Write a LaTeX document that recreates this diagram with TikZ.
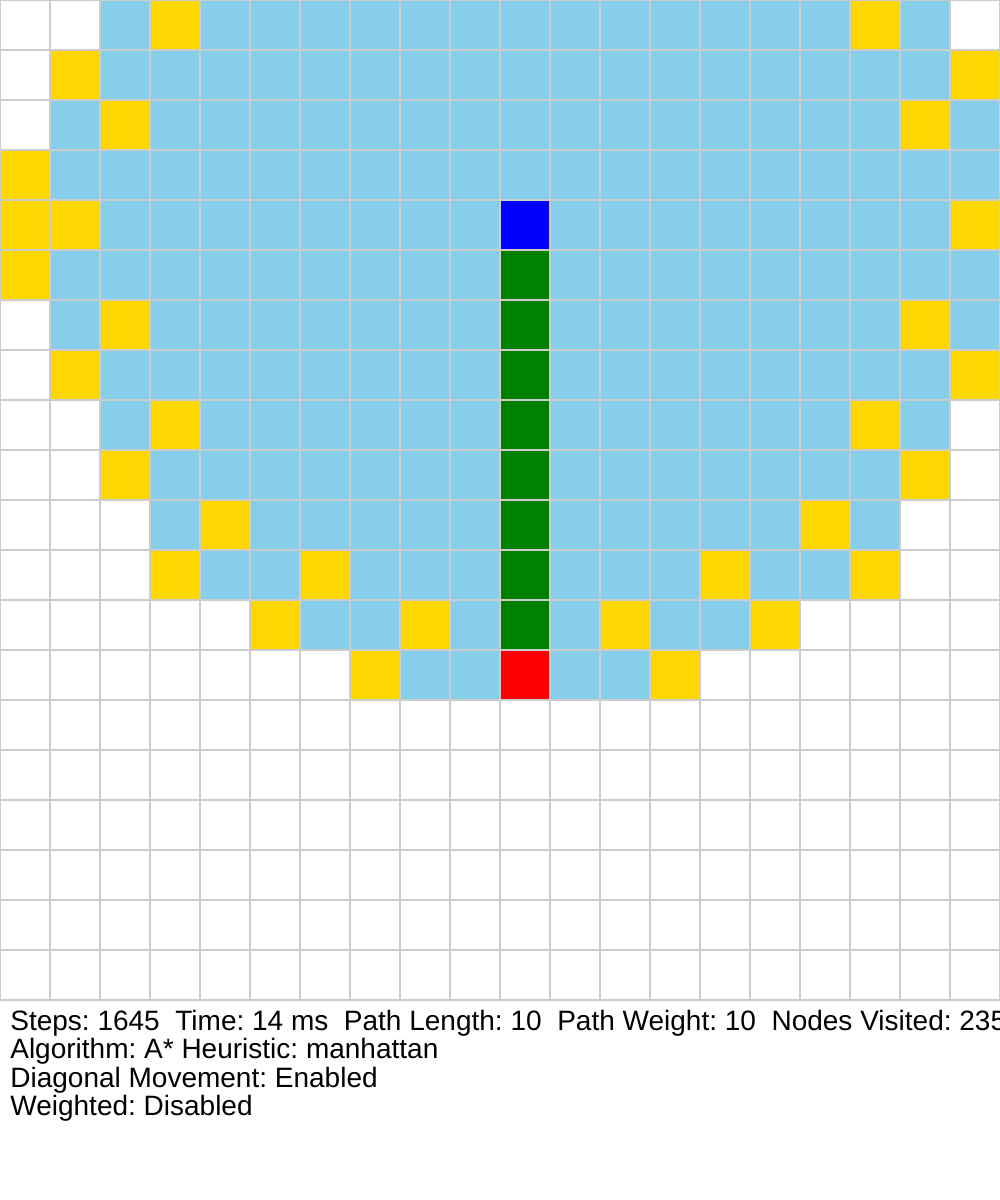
\documentclass[tikz,border=0pt]{standalone}
\usepackage{fontspec}
\setmainfont{Liberation Sans}
\frenchspacing
\definecolor{cw}{HTML}{FFFFFF}
\definecolor{cb}{HTML}{87CEEB}
\definecolor{cy}{HTML}{FFD700}
\definecolor{cd}{HTML}{0000FF}
\definecolor{cg}{HTML}{008000}
\definecolor{cr}{HTML}{FF0000}
\definecolor{gridgray}{HTML}{CCCCCC}
\begin{document}
\begin{tikzpicture}[x=0.02cm,y=-0.02cm,
  cell/.style={draw=gridgray,line width=0.6pt},
  info/.style={anchor=base west,inner sep=0pt,font=\fontsize{15.94pt}{19pt}\selectfont\frenchspacing}]
\useasboundingbox (0,0) rectangle (1000,1200);
\clip (0,0) rectangle (1000,1200);
\fill[white] (0,0) rectangle (1000,1200);
\foreach \row [count=\r from 0] in {
 {w,w,b,y,b,b,b,b,b,b,b,b,b,b,b,b,b,y,b,w},
 {w,y,b,b,b,b,b,b,b,b,b,b,b,b,b,b,b,b,b,y},
 {w,b,y,b,b,b,b,b,b,b,b,b,b,b,b,b,b,b,y,b},
 {y,b,b,b,b,b,b,b,b,b,b,b,b,b,b,b,b,b,b,b},
 {y,y,b,b,b,b,b,b,b,b,d,b,b,b,b,b,b,b,b,y},
 {y,b,b,b,b,b,b,b,b,b,g,b,b,b,b,b,b,b,b,b},
 {w,b,y,b,b,b,b,b,b,b,g,b,b,b,b,b,b,b,y,b},
 {w,y,b,b,b,b,b,b,b,b,g,b,b,b,b,b,b,b,b,y},
 {w,w,b,y,b,b,b,b,b,b,g,b,b,b,b,b,b,y,b,w},
 {w,w,y,b,b,b,b,b,b,b,g,b,b,b,b,b,b,b,y,w},
 {w,w,w,b,y,b,b,b,b,b,g,b,b,b,b,b,y,b,w,w},
 {w,w,w,y,b,b,y,b,b,b,g,b,b,b,y,b,b,y,w,w},
 {w,w,w,w,w,y,b,b,y,b,g,b,y,b,b,y,w,w,w,w},
 {w,w,w,w,w,w,w,y,b,b,r,b,b,y,w,w,w,w,w,w},
 {w,w,w,w,w,w,w,w,w,w,w,w,w,w,w,w,w,w,w,w},
 {w,w,w,w,w,w,w,w,w,w,w,w,w,w,w,w,w,w,w,w},
 {w,w,w,w,w,w,w,w,w,w,w,w,w,w,w,w,w,w,w,w},
 {w,w,w,w,w,w,w,w,w,w,w,w,w,w,w,w,w,w,w,w},
 {w,w,w,w,w,w,w,w,w,w,w,w,w,w,w,w,w,w,w,w},
 {w,w,w,w,w,w,w,w,w,w,w,w,w,w,w,w,w,w,w,w}}{
  \foreach \c [count=\k from 0] in \row {
    \filldraw[cell,fill=c\c] (\k*50,\r*50) rectangle ++(50,50);
  }
}
\node[info] (stats) at (10,1030) {Steps: 1645\ \ Time: 14 ms\ \ Path Length: 10\ \ Path Weight: 10\ \ Nodes Visited: 235};
\node[info] (algo) at (10,1058.5) {Algorithm: A* Heuristic: manhattan};
\node[info] (diag) at (10,1087) {Diagonal Movement: Enabled};
\node[info] (weight) at (10,1115.5) {Weighted: Disabled};
\end{tikzpicture}
\end{document}
